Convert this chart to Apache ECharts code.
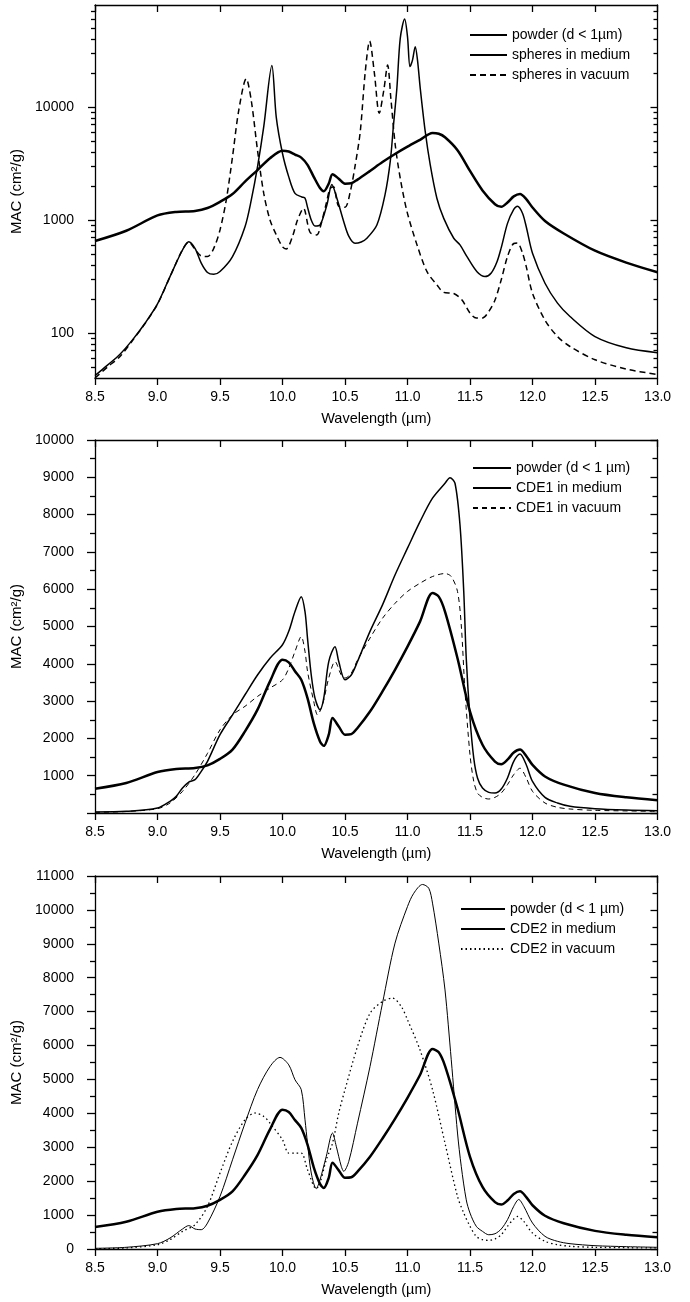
<!DOCTYPE html>
<html>
<head>
<meta charset="utf-8">
<script src="https://cdn.jsdelivr.net/npm/echarts@6/dist/echarts.min.js"></script>
<style>
  html, body { margin: 0; padding: 0; background: #fff; }
  #chart { width: 690px; height: 1302px; }
</style>
</head>
<body>
<div id="chart"></div>
<script>
// powder curve, same in all three panels
const wavePowder = [8.5, 8.75, 9.0, 9.15, 9.3, 9.4, 9.5, 9.6, 9.7, 9.8, 9.9, 10.0, 10.05, 10.1, 10.15, 10.2, 10.25, 10.3, 10.33, 10.37, 10.4, 10.45, 10.5, 10.55, 10.6, 10.7, 10.8, 10.9, 11.0, 11.1, 11.2, 11.25, 11.3, 11.4, 11.5, 11.6, 11.7, 11.75, 11.8, 11.85, 11.9, 11.95, 12.0, 12.1, 12.25, 12.5, 12.75, 13.0];
const macPowder = [652, 804, 1098, 1180, 1205, 1277, 1450, 1700, 2190, 2770, 3530, 4110, 4040, 3800, 3570, 3080, 2410, 1920, 1800, 2100, 2545, 2320, 2100, 2115, 2280, 2720, 3260, 3840, 4460, 5130, 5900, 5800, 5400, 4150, 2720, 1830, 1380, 1310, 1430, 1620, 1700, 1530, 1290, 980, 760, 535, 420, 345];

// panel 1 (log scale)
const waveSphMed = [8.5, 8.6, 8.7, 8.8, 8.9, 9.0, 9.1, 9.2, 9.25, 9.3, 9.35, 9.4, 9.45, 9.5, 9.6, 9.7, 9.75, 9.8, 9.85, 9.915, 9.95, 10.0, 10.05, 10.1, 10.155, 10.18, 10.2, 10.23, 10.26, 10.3, 10.355, 10.395, 10.435, 10.49, 10.53, 10.58, 10.63, 10.675, 10.755, 10.82, 10.862, 10.888, 10.915, 10.942, 10.977, 11.0, 11.02, 11.04, 11.062, 11.08, 11.102, 11.142, 11.182, 11.235, 11.29, 11.37, 11.42, 11.476, 11.556, 11.62, 11.67, 11.716, 11.75, 11.8, 11.85, 11.88, 11.92, 11.95, 12.0, 12.1, 12.2, 12.3, 12.5, 12.75, 13.0];
const macSphMed = [42, 52, 65, 87, 122, 181, 316, 543, 644, 562, 415, 343, 331, 350, 475, 872, 1500, 2950, 6700, 23300, 8150, 3880, 2410, 1720, 1600, 1560, 1300, 1000, 885, 904, 1360, 2060, 1560, 966, 720, 622, 640, 690, 904, 1670, 3300, 6930, 14650, 40500, 60100, 42000, 22800, 26000, 34200, 26000, 14650, 6050, 3070, 1560, 1035, 690, 603, 474, 349, 316, 340, 427, 570, 934, 1240, 1327, 1150, 872, 508, 276, 184, 140, 93, 74, 67];
const waveSphVac = [8.5, 8.6, 8.7, 8.8, 8.9, 9.0, 9.1, 9.2, 9.25, 9.3, 9.35, 9.4, 9.45, 9.5, 9.55, 9.6, 9.65, 9.71, 9.75, 9.8, 9.85, 9.9, 9.95, 10.0, 10.03, 10.08, 10.12, 10.168, 10.22, 10.275, 10.3, 10.35, 10.38, 10.408, 10.448, 10.5, 10.542, 10.582, 10.622, 10.662, 10.697, 10.735, 10.774, 10.81, 10.841, 10.867, 10.902, 10.942, 10.996, 11.076, 11.156, 11.236, 11.29, 11.37, 11.436, 11.5, 11.55, 11.6, 11.65, 11.7, 11.75, 11.8, 11.85, 11.88, 11.92, 11.95, 12.0, 12.1, 12.2, 12.3, 12.5, 12.75, 13.0];
const macSphVac = [40, 50, 62, 86, 121, 180, 315, 548, 640, 550, 481, 475, 562, 817, 1500, 3620, 9350, 17800, 11450, 4150, 1720, 1000, 740, 580, 555, 715, 1000, 1270, 780, 738, 850, 1400, 1900, 1970, 1330, 1300, 1780, 3070, 6050, 20500, 38400, 20000, 8790, 14000, 23500, 11900, 4610, 2340, 1190, 603, 349, 266, 229, 224, 196, 150, 136, 136, 155, 196, 296, 475, 620, 625, 510, 387, 225, 130, 93, 76, 58, 48, 43];

// panel 2
const waveCde1Med = [8.5, 8.75, 9.0, 9.1, 9.15, 9.2, 9.25, 9.3, 9.35, 9.4, 9.5, 9.6, 9.7, 9.8, 9.9, 10.0, 10.05, 10.1, 10.15, 10.18, 10.2, 10.23, 10.26, 10.3, 10.33, 10.37, 10.42, 10.45, 10.5, 10.55, 10.6, 10.7, 10.8, 10.9, 11.0, 11.1, 11.2, 11.3, 11.34, 11.38, 11.42, 11.45, 11.47, 11.5, 11.53, 11.56, 11.6, 11.65, 11.7, 11.75, 11.8, 11.85, 11.9, 11.95, 12.0, 12.1, 12.2, 12.3, 12.5, 12.75, 13.0];
const macCde1Med = [27, 45, 134, 312, 446, 670, 830, 893, 1116, 1384, 2100, 2630, 3170, 3700, 4150, 4510, 4870, 5400, 5800, 5400, 4690, 3700, 3080, 2770, 3080, 4060, 4460, 4060, 3570, 3700, 4060, 4870, 5580, 6380, 7100, 7810, 8440, 8840, 8990, 8840, 7720, 5940, 4150, 2540, 1470, 940, 670, 553, 535, 643, 940, 1384, 1580, 1295, 848, 420, 268, 180, 116, 80, 62];
const waveCde1Vac = [8.5, 8.75, 9.0, 9.1, 9.2, 9.3, 9.4, 9.5, 9.6, 9.7, 9.8, 9.9, 10.0, 10.05, 10.1, 10.15, 10.18, 10.2, 10.25, 10.28, 10.32, 10.37, 10.42, 10.47, 10.5, 10.55, 10.6, 10.7, 10.8, 10.9, 11.0, 11.1, 11.2, 11.3, 11.35, 11.4, 11.43, 11.46, 11.5, 11.53, 11.56, 11.6, 11.65, 11.7, 11.75, 11.8, 11.85, 11.9, 11.95, 12.0, 12.1, 12.2, 12.3, 12.5, 13.0];
const macCde1Vac = [18, 40, 116, 268, 580, 1030, 1600, 2230, 2630, 2860, 3125, 3350, 3570, 3880, 4330, 4730, 4330, 3800, 2990, 2630, 2900, 3620, 4060, 3700, 3620, 3750, 4100, 4690, 5220, 5620, 5940, 6160, 6340, 6420, 6340, 5940, 5040, 3260, 1560, 848, 535, 420, 375, 420, 535, 760, 1030, 1200, 940, 580, 268, 152, 107, 71, 45];

// panel 3
const waveCde2Med = [8.5, 8.75, 9.0, 9.1, 9.2, 9.25, 9.3, 9.35, 9.4, 9.5, 9.6, 9.7, 9.8, 9.9, 9.98, 10.05, 10.1, 10.15, 10.18, 10.2, 10.23, 10.27, 10.3, 10.35, 10.4, 10.43, 10.47, 10.49, 10.53, 10.6, 10.7, 10.8, 10.9, 11.0, 11.05, 11.12, 11.17, 11.2, 11.25, 11.3, 11.35, 11.4, 11.43, 11.47, 11.5, 11.55, 11.6, 11.65, 11.7, 11.75, 11.8, 11.85, 11.89, 11.93, 12.0, 12.1, 12.2, 12.3, 12.5, 12.75, 13.0];
const macCde2Med = [20, 50, 157, 324, 590, 690, 590, 570, 766, 1550, 2630, 3710, 4700, 5380, 5650, 5430, 4990, 4700, 3810, 3120, 2240, 1780, 2040, 2730, 3420, 3030, 2440, 2290, 2580, 3710, 5380, 7250, 9020, 10100, 10490, 10750, 10640, 10200, 9020, 7640, 5580, 3420, 2440, 1450, 1060, 670, 520, 420, 450, 590, 865, 1260, 1460, 1260, 766, 373, 226, 157, 98, 69, 50];
const waveCde2Vac = [8.5, 8.75, 9.0, 9.1, 9.2, 9.3, 9.4, 9.5, 9.6, 9.7, 9.78, 9.85, 9.9, 10.0, 10.05, 10.1, 10.15, 10.2, 10.27, 10.3, 10.35, 10.4, 10.45, 10.5, 10.6, 10.7, 10.8, 10.88, 10.95, 11.0, 11.1, 11.2, 11.3, 11.4, 11.45, 11.5, 11.55, 11.6, 11.65, 11.7, 11.75, 11.8, 11.85, 11.88, 11.93, 12.0, 12.1, 12.2, 12.3, 12.5, 13.0];
const macCde2Vac = [10, 30, 128, 275, 520, 717, 1260, 2240, 3170, 3810, 4010, 3910, 3710, 3220, 2830, 2830, 2830, 2340, 1780, 1950, 2630, 3120, 4010, 4700, 5970, 6950, 7300, 7400, 7150, 6760, 5870, 4700, 3120, 1550, 1060, 670, 373, 275, 255, 295, 420, 670, 885, 960, 815, 470, 226, 128, 80, 50, 30];

// tick positions for the log panel
const logMajor = [100, 1000, 10000];
const logMinor = [50, 60, 70, 80, 90, 200, 300, 400, 500, 600, 700, 800, 900, 2000, 3000, 4000, 5000, 6000, 7000, 8000, 9000, 20000, 30000, 40000, 50000, 60000, 70000];

const names1 = ['powder (d < 1\u00b5m)', 'spheres in medium', 'spheres in vacuum'];
const names2 = ['powder (d < 1 \u00b5m)', 'CDE1 in medium', 'CDE1 in vacuum'];
const names3 = ['powder (d < 1 \u00b5m)', 'CDE2 in medium', 'CDE2 in vacuum'];

const FONT = 'Liberation Sans, Arial, Helvetica, sans-serif';
const tops = [5, 440, 876];
const plotH = 373;

function pairs(xs, ys) {
  return xs.map((x, i) => [x, ys[i]]);
}

const black = { color: '#000', width: 1.3 };
const lbl = { color: '#000', fontSize: 14, fontFamily: FONT, formatter: v => String(v) };

let xAxes = [], yAxes = [];
tops.forEach((t, g) => {
  xAxes.push({
    type: 'value', gridIndex: g, position: 'bottom', min: 8.5, max: 13, interval: 0.5,
    axisLine: { show: true, onZero: false, lineStyle: black },
    axisTick: { show: true, length: 7, lineStyle: black },
    axisLabel: Object.assign({}, lbl, { margin: 12, formatter: v => v.toFixed(1) }),
    splitLine: { show: false },
    name: 'Wavelength (\u00b5m)', nameLocation: 'middle', nameGap: 33,
    nameTextStyle: { color: '#000', fontSize: 14.5, fontFamily: FONT }
  });
  xAxes.push({
    type: 'value', gridIndex: g, position: 'top', min: 8.5, max: 13, interval: 0.5,
    axisLine: { show: true, onZero: false, lineStyle: black },
    axisTick: { show: true, inside: true, length: 7, lineStyle: black },
    axisLabel: { show: false }, splitLine: { show: false }
  });
});

// panel 1: log axes, with extra axes carrying only minor ticks
const yName = {
  name: 'MAC (cm\u00b2/g)', nameLocation: 'middle', nameRotate: 90, nameGap: 52,
  nameTextStyle: { color: '#000', fontSize: 15, fontFamily: FONT }
};
yAxes.push(Object.assign({
  type: 'log', logBase: 10, gridIndex: 0, position: 'left', min: 40, max: 80000,
  axisLine: { show: true, lineStyle: black },
  axisTick: { show: true, length: 7, customValues: logMajor, lineStyle: black },
  axisLabel: Object.assign({ margin: 21, customValues: logMajor }, lbl),
  splitLine: { show: false }
}, yName));
yAxes.push({
  type: 'log', logBase: 10, gridIndex: 0, position: 'left', min: 40, max: 80000,
  axisLine: { show: false },
  axisTick: { show: true, length: 4, customValues: logMinor, lineStyle: black },
  axisLabel: { show: false }, splitLine: { show: false }
});
yAxes.push({
  type: 'log', logBase: 10, gridIndex: 0, position: 'right', min: 40, max: 80000,
  axisLine: { show: true, lineStyle: black },
  axisTick: { show: true, inside: true, length: 7, customValues: logMajor, lineStyle: black },
  axisLabel: { show: false }, splitLine: { show: false }
});
yAxes.push({
  type: 'log', logBase: 10, gridIndex: 0, position: 'right', min: 40, max: 80000,
  axisLine: { show: false },
  axisTick: { show: true, inside: true, length: 4, customValues: logMinor, lineStyle: black },
  axisLabel: { show: false }, splitLine: { show: false }
});

// panels 2 and 3: linear axes
[[1, 10000, false], [2, 11000, true]].forEach(([g, maxV, showZero]) => {
  yAxes.push(Object.assign({
    type: 'value', gridIndex: g, position: 'left', min: 0, max: maxV, interval: 1000,
    axisLine: { show: true, onZero: false, lineStyle: black },
    axisTick: { show: true, length: 8, lineStyle: black },
    minorTick: { show: true, splitNumber: 2, length: 5, lineStyle: black },
    axisLabel: Object.assign({ margin: 21, showMinLabel: showZero }, lbl),
    splitLine: { show: false }
  }, yName));
  yAxes.push({
    type: 'value', gridIndex: g, position: 'right', min: 0, max: maxV, interval: 1000,
    axisLine: { show: true, onZero: false, lineStyle: black },
    axisTick: { show: true, inside: true, length: 7, lineStyle: black },
    minorTick: { show: true, splitNumber: 2, length: 5, lineStyle: black },
    axisLabel: { show: false }, splitLine: { show: false }
  });
});

function line(name, xs, ys, xi, yi, width, type) {
  return {
    type: 'line', name: name, xAxisIndex: xi, yAxisIndex: yi,
    data: pairs(xs, ys), symbol: 'none', smooth: 0.3, animation: false,
    lineStyle: { color: '#000', width: width, type: type },
    itemStyle: { color: '#000' }
  };
}

const series = [
  line(names1[0], wavePowder, macPowder, 0, 0, 2.5, 'solid'),
  line(names1[1], waveSphMed, macSphMed, 0, 0, 1.5, 'solid'),
  line(names1[2], waveSphVac, macSphVac, 0, 0, 1.5, [6, 4]),
  line(names2[0], wavePowder, macPowder, 2, 4, 2.5, 'solid'),
  line(names2[1], waveCde1Med, macCde1Med, 2, 4, 1.5, 'solid'),
  line(names2[2], waveCde1Vac, macCde1Vac, 2, 4, 1, [5, 4]),
  line(names3[0], wavePowder, macPowder, 4, 6, 2.5, 'solid'),
  line(names3[1], waveCde2Med, macCde2Med, 4, 6, 1, 'solid'),
  line(names3[2], waveCde2Vac, macCde2Vac, 4, 6, 1.3, [1.5, 3])
];

function legend(names, left, top, w) {
  return {
    data: names, left: left, top: top, orient: 'vertical', align: 'left',
    itemWidth: w, itemHeight: 14, itemGap: 6, padding: 0,
    selectedMode: false,
    itemStyle: { color: 'rgba(0,0,0,0)', borderColor: 'rgba(0,0,0,0)', borderWidth: 0 },
    textStyle: { color: '#000', fontSize: 14, fontFamily: FONT }
  };
}

const chart = echarts.init(document.getElementById('chart'));
chart.setOption({
  backgroundColor: '#fff',
  animation: false,
  grid: tops.map(t => ({ left: 95, right: 32.5, top: t, height: plotH, containLabel: false, outerBoundsMode: 'none' })),
  legend: [
    legend(names1, 469, 28, 37),
    legend(names2, 472, 461, 38),
    legend(names3, 460, 902, 44)
  ],
  xAxis: xAxes,
  yAxis: yAxes,
  series: series
});
</script>
</body>
</html>
